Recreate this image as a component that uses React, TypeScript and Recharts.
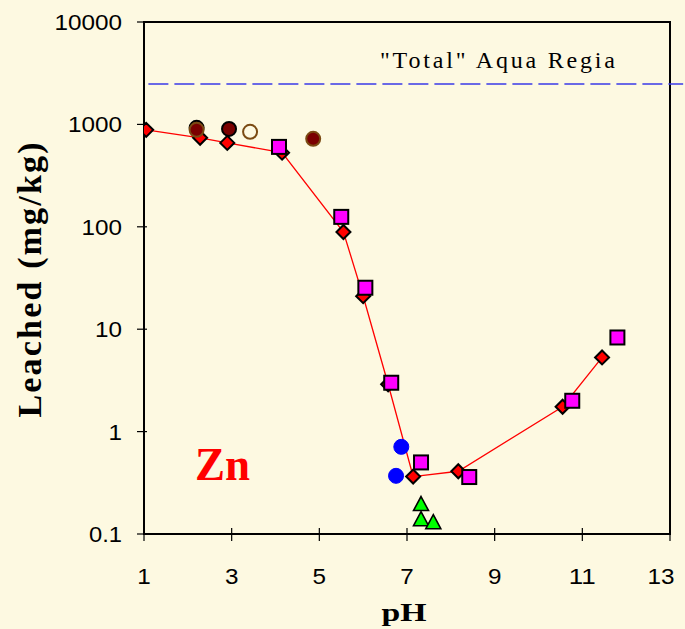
import React from "react"
import {
  ComposedChart,
  Line,
  Scatter,
  XAxis,
  YAxis,
  ReferenceLine,
  ReferenceArea,
} from "recharts"

const phTicks = [1, 3, 5, 7, 9, 11, 13]
const leachTicks = [0.1, 1, 10, 100, 1000, 10000]
const aquaRegiaTotal = 2480

// leaching curve (red diamonds joined by a line)
const curvePh = [1.05, 2.28, 2.9, 4.15, 5.55, 6.0, 6.57, 7.14, 8.17, 10.55, 11.45]
const curveZn = [885, 740, 660, 530, 89, 21, 2.9, 0.364, 0.41, 1.75, 5.3]

// magenta squares
const squarePh = [4.08, 5.5, 6.05, 6.64, 7.32, 8.42, 10.77, 11.8]
const squareZn = [603, 125, 25.4, 3.0, 0.5, 0.36, 2.0, 8.3]

// dark red circles, black rim
const darkPh = [2.2, 2.94]
const darkZn = [925, 903]

// dark red circles, brown rim
const brownPh = [2.2, 4.86]
const brownZn = [885, 723]

// open brown circle
const openPh = [3.42]
const openZn = [846]

// blue dots
const bluePh = [6.87, 6.75]
const blueZn = [0.71, 0.37]

// green triangles
const greenPh = [7.32, 7.32, 7.6]
const greenZn = [0.194, 0.138, 0.129]

const zip = (ph: number[], zn: number[]) => ph.map((p, i) => ({ ph: p, zn: zn[i] }))

const curveData = zip(curvePh, curveZn)
const squareData = zip(squarePh, squareZn)
const darkData = zip(darkPh, darkZn)
const brownData = zip(brownPh, brownZn)
const openData = zip(openPh, openZn)
const blueData = zip(bluePh, blueZn)
const greenData = zip(greenPh, greenZn)

const BG = "#FDF9E1"
const SANS = "'Liberation Sans', Arial, sans-serif"
const SERIF = "'Liberation Serif', 'Times New Roman', serif"

const Diamond = (props: any) => {
  const { cx, cy, index } = props
  if (cx == null || cy == null) return null
  const r = 7
  return (
    <path
      key={`d${index}`}
      d={`M${cx},${cy - r} L${cx + r},${cy} L${cx},${cy + r} L${cx - r},${cy} Z`}
      fill='#FF0000'
      stroke='#000'
      strokeWidth={2}
    />
  )
}

const Square = ({ cx, cy }: any) => (
  <rect x={cx - 7} y={cy - 7} width={14} height={14} fill='#FF00FF' stroke='#000' strokeWidth={2} />
)

const dot = (fill: string, stroke: string, r: number, sw: number) => ({ cx, cy }: any) => (
  <circle cx={cx} cy={cy} r={r} fill={fill} stroke={stroke} strokeWidth={sw} />
)

const Triangle = ({ cx, cy }: any) => (
  <path
    d={`M${cx},${cy - 8} L${cx + 7.5},${cy + 6} L${cx - 7.5},${cy + 6} Z`}
    fill='#00FF00'
    stroke='#000'
    strokeWidth={1.6}
  />
)

// tick labels are drawn a little wide, like the original sheet
const labelWidth = (s: string) => s.replace(/\./g, "").length * 13.5 + (s.includes(".") ? 6 : 0)

const PhTick = ({ x, y, payload }: any) => {
  const s = String(payload.value)
  // last label is pulled in so it stays inside the frame
  const lx = payload.value === 13 ? x - 9 : x
  return (
    <g>
      <line x1={x} x2={x} y1={y - 6} y2={y + 7} stroke='#000' strokeWidth={1.2} />
      <text
        x={lx}
        y={y + 50}
        textAnchor='middle'
        textLength={labelWidth(s)}
        lengthAdjust='spacingAndGlyphs'
        fontFamily={SANS}
        fontSize={22}
        fill='#000'>
        {s}
      </text>
    </g>
  )
}

const LeachTick = ({ x, y, payload }: any) => {
  const s = payload.value < 1 ? "0.1" : String(payload.value)
  return (
    <g>
      <line x1={x - 7} x2={x + 3} y1={y} y2={y} stroke='#000' strokeWidth={1.2} />
      <text
        x={x - 22}
        y={y + 8}
        textAnchor='end'
        textLength={labelWidth(s)}
        lengthAdjust='spacingAndGlyphs'
        fontFamily={SANS}
        fontSize={22}
        fill='#000'>
        {s}
      </text>
    </g>
  )
}

export default function App() {
  return (
    <div
      style={{
        position: "absolute",
        left: 0,
        top: 0,
        width: 685,
        height: 629,
        background: BG,
      }}>
      <ComposedChart
        width={685}
        height={629}
        margin={{ top: 22, right: 15, bottom: 0, left: 0 }}>
        <XAxis
          dataKey='ph'
          type='number'
          domain={[1, 13]}
          ticks={phTicks}
          allowDataOverflow
          axisLine={false}
          tickLine={false}
          tickSize={0}
          tickMargin={0}
          height={95}
          tick={<PhTick />}
        />
        <YAxis
          dataKey='zn'
          type='number'
          scale='log'
          domain={[0.1, 10000]}
          ticks={leachTicks}
          allowDataOverflow
          axisLine={false}
          tickLine={false}
          tickSize={0}
          tickMargin={0}
          width={144}
          tick={<LeachTick />}
        />
        <ReferenceArea
          x1={1}
          x2={13}
          y1={0.1}
          y2={10000}
          fill='none'
          stroke='#000'
          strokeWidth={2}
          ifOverflow='visible'
        />
        <ReferenceLine
          segment={[
            { x: 1.1, y: aquaRegiaTotal },
            { x: 13.3, y: aquaRegiaTotal },
          ]}
          stroke='#3A3AE8'
          strokeWidth={1.3}
          strokeDasharray='20 6'
          ifOverflow='visible'
        />
        <Line
          data={curveData}
          dataKey='zn'
          type='linear'
          stroke='#FF0000'
          strokeWidth={1.3}
          dot={Diamond}
          activeDot={false}
          isAnimationActive={false}
        />
        <Scatter data={squareData} dataKey='zn' shape={Square} isAnimationActive={false} />
        <Scatter data={darkData} dataKey='zn' shape={dot("#7A0000", "#000", 7, 2)} isAnimationActive={false} />
        <Scatter data={brownData} dataKey='zn' shape={dot("#7A0000", "#7A4A12", 7, 2)} isAnimationActive={false} />
        <Scatter data={openData} dataKey='zn' shape={dot(BG, "#7A4A12", 7, 2)} isAnimationActive={false} />
        <Scatter data={blueData} dataKey='zn' shape={dot("#0000FF", "#0000FF", 7.5, 1)} isAnimationActive={false} />
        <Scatter data={greenData} dataKey='zn' shape={Triangle} isAnimationActive={false} />

        <text
          x={380}
          y={68}
          textLength={235}
          lengthAdjust='spacing'
          fontFamily={SERIF}
          fontSize={24}
          fill='#000'>
          "Total" Aqua Regia
        </text>
        <text
          x={195}
          y={480}
          textLength={55}
          lengthAdjust='spacingAndGlyphs'
          fontFamily={SERIF}
          fontWeight='bold'
          fontSize={46}
          fill='#FF0000'>
          Zn
        </text>
        <text
          transform='translate(41, 280) rotate(-90)'
          textAnchor='middle'
          textLength={275}
          lengthAdjust='spacing'
          fontFamily={SERIF}
          fontWeight='bold'
          fontSize={34}
          fill='#000'>
          Leached (mg/kg)
        </text>
        <text
          x={404}
          y={621}
          textAnchor='middle'
          textLength={45}
          lengthAdjust='spacingAndGlyphs'
          fontFamily={SERIF}
          fontWeight='bold'
          fontSize={26}
          fill='#000'>
          pH
        </text>
      </ComposedChart>
    </div>
  )
}
